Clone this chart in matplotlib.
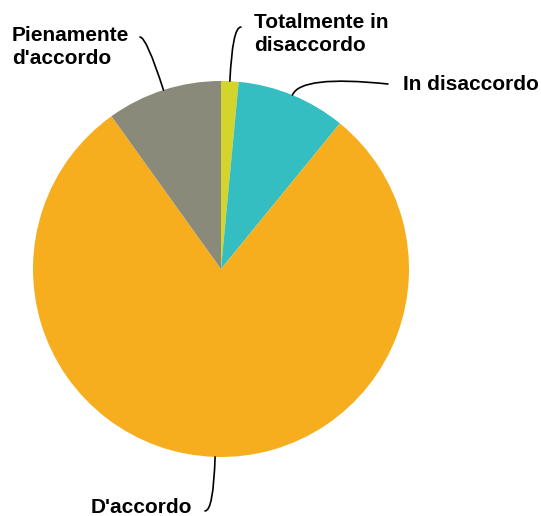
import numpy as np
import matplotlib
matplotlib.use("Agg")
from matplotlib import pyplot as plt

labels = ["Totalmente in\ndisaccordo", "In disaccordo", "D'accordo", "Pienamente\nd'accordo"]
values = [1.5, 9.4, 79.2, 9.9]
colors = ["#D3D52C", "#35BEC1", "#F6AE1E", "#8A8A7A"]

# label text position (data units, pie radius = 1), alignment, line end, line angle at end
label_pos = [(0.176, 1.250), (0.968, 0.979), (-0.154, -1.271), (-1.112, 1.181)]
label_ha = ["left", "left", "right", "left"]
line_end = [(0.106, 1.287), (0.888, 0.984), (-0.085, -1.287), (-0.431, 1.234)]
end_angle = [0, 174, 0, 0]

fig = plt.figure(figsize=(5.41, 5.16), dpi=100)
ax = fig.add_axes([0, 0, 1, 1])
wedges, _ = ax.pie(values, colors=colors, startangle=90, counterclock=False,
                   radius=1, wedgeprops=dict(linewidth=0))
ax.set_xlim(-221 / 188, 320 / 188)
ax.set_ylim(-247 / 188, 269 / 188)
ax.set_aspect("auto")
ax.axis("off")

for i, w in enumerate(wedges):
    mid = np.deg2rad((w.theta1 + w.theta2) / 2)
    anchor = (np.cos(mid), np.sin(mid))
    ax.annotate("", xy=anchor, xytext=line_end[i],
                arrowprops=dict(arrowstyle="-", color="black", lw=1.2,
                                shrinkA=0, shrinkB=0,
                                connectionstyle="angle3,angleA=%d,angleB=%.1f"
                                % (end_angle[i], np.rad2deg(mid))))
    ax.text(label_pos[i][0], label_pos[i][1], labels[i], ha=label_ha[i], va="center",
            fontsize=15, fontweight="bold", family="Liberation Sans",
            linespacing=1.25)

fig.savefig("out.png", dpi=100)
